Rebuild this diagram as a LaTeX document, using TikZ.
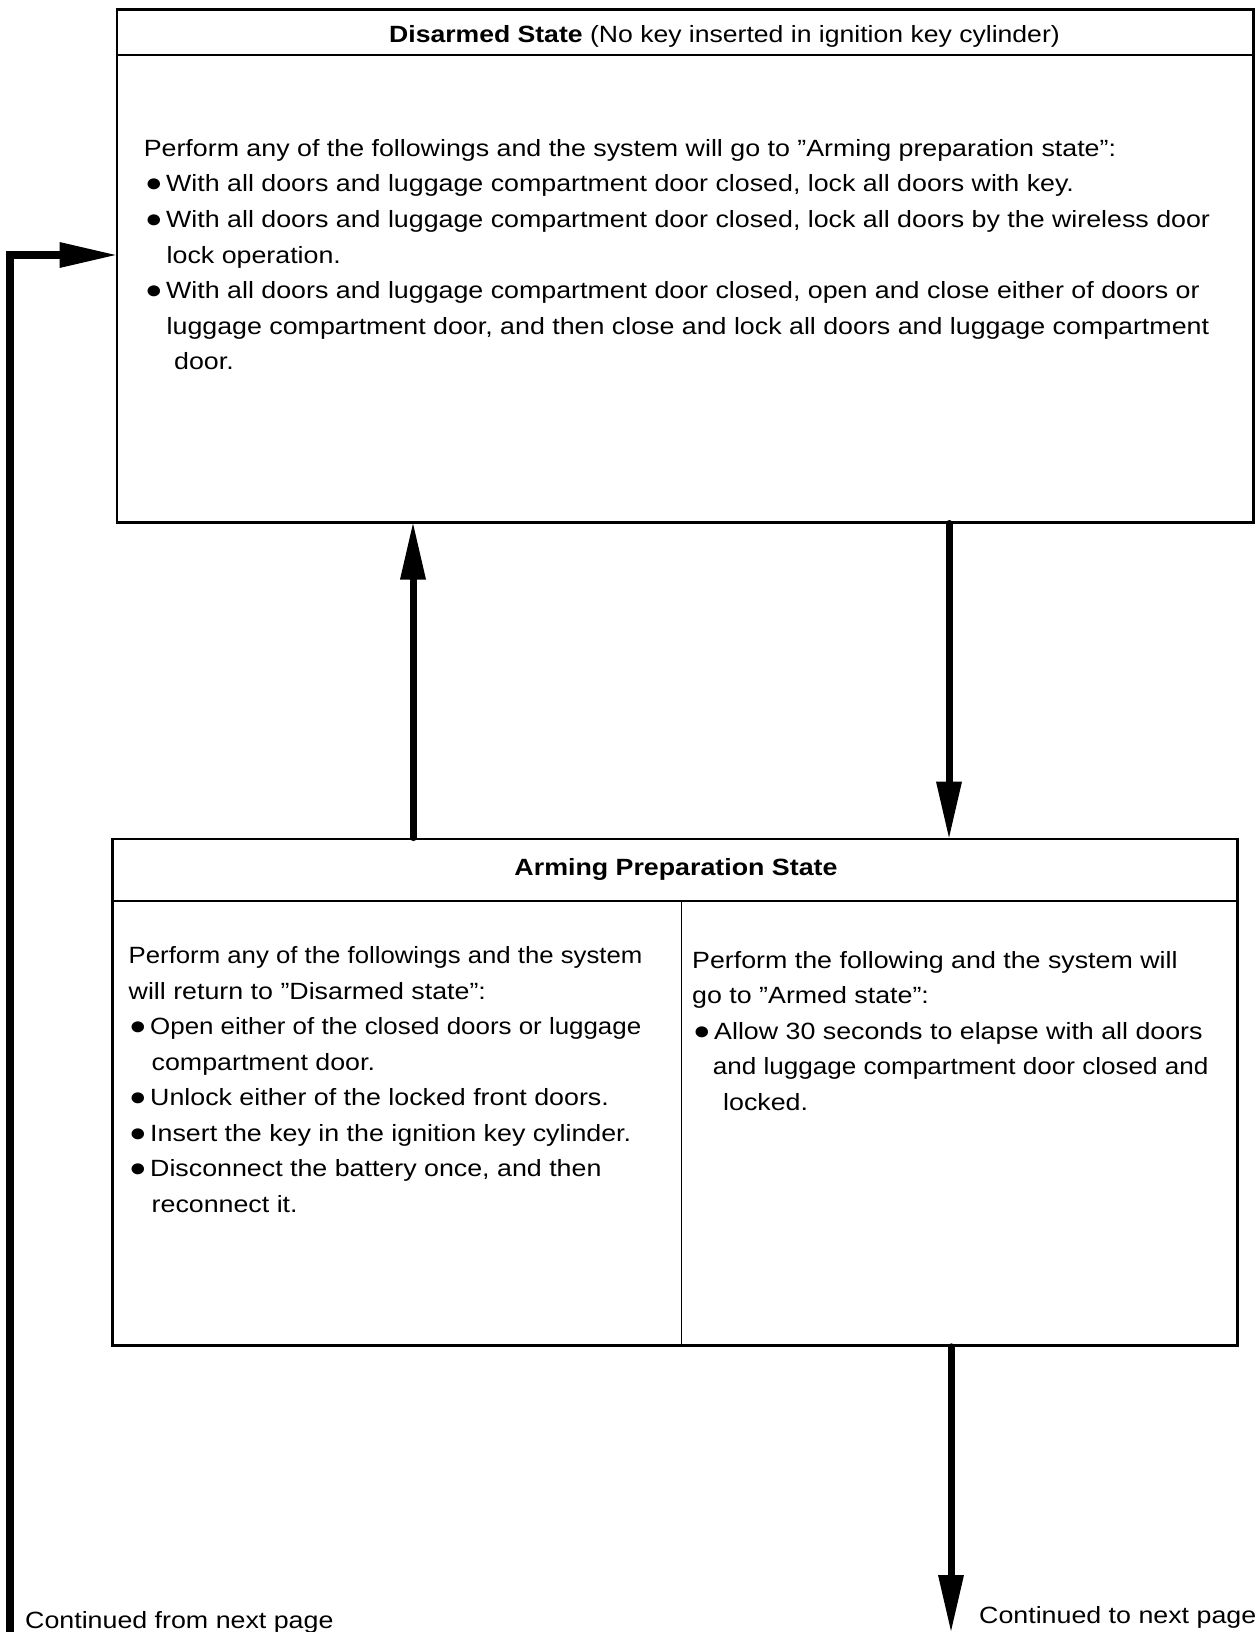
\documentclass[tikz,border=0pt]{standalone}
\usepackage{fontspec}
\setmainfont[FakeStretch=1.14]{Liberation Sans}
\usetikzlibrary{arrows.meta}
\newcommand\mybul{\makebox[21pt][l]{\fontsize{25.5}{25.5}\selectfont ●}}
\begin{document}
\begin{tikzpicture}[x=1pt,y=-1pt,
  box/.style={draw, line width=2.5pt, anchor=north west, inner sep=0pt},
  thinline/.style={line width=1.3pt},
  txt/.style={anchor=base west, inner sep=0pt, font=\fontsize{23.5}{27}\selectfont},
  ttl/.style={inner sep=0pt, font=\fontsize{23.5}{27}\selectfont},
  arr/.style={line width=7pt, -{Triangle[length=56pt,width=26pt,line width=0pt]}},
]
\useasboundingbox[fill=white] (0,0) rectangle (1260,1632);

% boxes
\node[box, minimum width=1136.5pt, minimum height=512.5pt] (dis) at (115.5,8.5) {};
\node[box, minimum width=1124.7pt, minimum height=506.7pt] (arm) at (111.3,837.6) {};

% header lines and divider
\coordinate (h1) at (0,55);
\coordinate (h2) at (0,901);
\coordinate (dv) at (681.5,0);
\draw[thinline] (dis.west |- h1) -- (dis.east |- h1);
\draw[thinline] (arm.west |- h2) -- (arm.east |- h2);
\draw[thinline] (dv |- h2) -- (dv |- arm.south);

% titles
\node[ttl, anchor=base west] (t1) at (389,42.7) {\scalebox{0.992}[1]{\bfseries Disarmed State\mdseries{} (No key inserted in ignition key cylinder)}};
\node[ttl, anchor=base] (t2) at (676,875) {\bfseries Arming Preparation State};

% top box text
\node[txt] (a1) at (143.6,156.5) {Perform any of the followings and the system will go to ”Arming preparation state”:};
\node[txt] (a2) at (145,192) {\mybul With all doors and luggage compartment door closed, lock all doors with key.};
\node[txt] (a3) at (145,227.5) {\mybul With all doors and luggage compartment door closed, lock all doors by the wireless door};
\node[txt] (a4) at (166.5,263) {lock operation.};
\node[txt] (a5) at (145,298.5) {\mybul With all doors and luggage compartment door closed, open and close either of doors or};
\node[txt] (a6) at (166.5,334) {luggage compartment door, and then close and lock all doors and luggage compartment};
\node[txt] (a7) at (174,369.5) {door.};

% bottom left text
\node[txt] (b1) at (128.5,963.5) {\scalebox{0.961}[1]{Perform any of the followings and the system}};
\node[txt] (b2) at (128.5,999) {will return to ”Disarmed state”:};
\node[txt] (b3) at (129,1034.5) {\mybul\scalebox{0.967}[1]{Open either of the closed doors or luggage}};
\node[txt] (b4) at (151.5,1070) {compartment door.};
\node[txt] (b5) at (129,1105.5) {\mybul Unlock either of the locked front doors.};
\node[txt] (b6) at (129,1141) {\mybul Insert the key in the ignition key cylinder.};
\node[txt] (b7) at (129,1176.5) {\mybul Disconnect the battery once, and then};
\node[txt] (b8) at (151.5,1212) {reconnect it.};

% bottom right text
\node[txt] (c1) at (692,968) {Perform the following and the system will};
\node[txt] (c2) at (692,1003.5) {go to ”Armed state”:};
\node[txt] (c3) at (693,1039) {\mybul Allow 30 seconds to elapse with all doors};
\node[txt] (c4) at (712.7,1074.5) {\scalebox{0.973}[1]{and luggage compartment door closed and}};
\node[txt] (c5) at (723,1110) {locked.};

% continuation labels
\node[txt] (cf) at (25,1628.3) {Continued from next page};
\node[txt] (ct) at (979,1623.5) {Continued to next page};

% connectors
\coordinate (lb) at (10,1632);
\coordinate (ly) at (0,255);
\coordinate (ux) at (413,0);
\coordinate (dx) at (949,0);
\coordinate (ox) at (951,0);
\coordinate (oe) at (951,1631);
\draw[arr, line width=7.5pt, line join=miter] (lb) |- (dis.west |- ly);
\draw[arr, line cap=round] (arm.north -| ux) -- (dis.south -| ux);
\draw[arr, line cap=round] (dis.south -| dx) -- (arm.north -| dx);
\draw[arr, line cap=round] (arm.south -| ox) -- (oe);
\end{tikzpicture}
\end{document}
